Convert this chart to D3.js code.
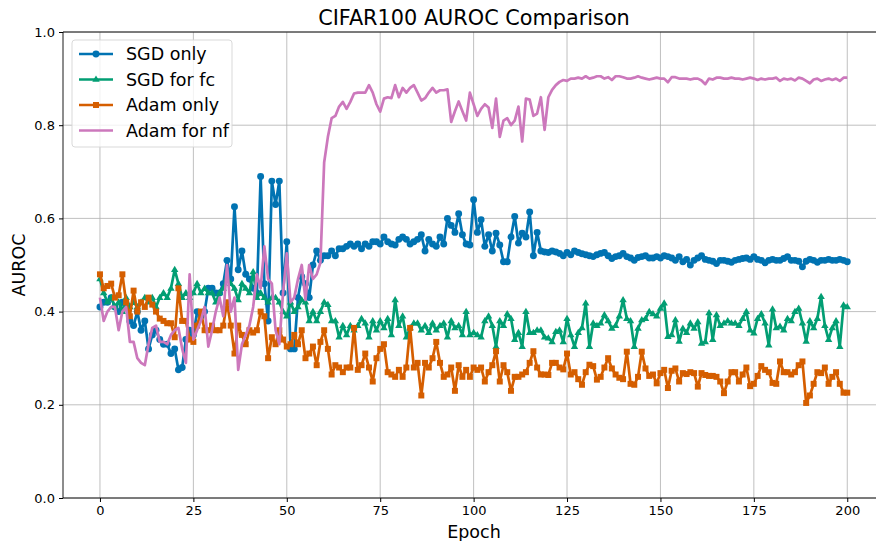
<!DOCTYPE html>
<html>
<head>
<meta charset="utf-8">
<script src="https://cdn.jsdelivr.net/npm/d3@7"></script>
<style>
  html, body { margin: 0; padding: 0; background: #fff; }
  svg { display: block; font-family: "DejaVu Sans", sans-serif; }
</style>
</head>
<body>
<svg id="chart" width="876" height="541"></svg>
<script>
// AUROC per epoch (0..200) for each optimiser setup
const sgdOnly = [
  0.41, 0.42, 0.42, 0.43, 0.41, 0.40, 0.42, 0.41, 0.38, 0.37,
  0.40, 0.36, 0.38, 0.32, 0.35, 0.36, 0.34, 0.33, 0.33, 0.31,
  0.32, 0.275, 0.28, 0.34, 0.36, 0.35, 0.40, 0.39, 0.40, 0.45,
  0.45, 0.44, 0.44, 0.46, 0.51, 0.47, 0.625, 0.49, 0.53, 0.48,
  0.47, 0.45, 0.44, 0.69, 0.46, 0.38, 0.68, 0.63, 0.68, 0.44,
  0.55, 0.32, 0.32, 0.43, 0.475, 0.46, 0.43, 0.50, 0.53, 0.51,
  0.52, 0.52, 0.53, 0.52, 0.535, 0.535, 0.54, 0.545, 0.54, 0.545,
  0.535, 0.545, 0.54, 0.55, 0.55, 0.545, 0.56, 0.55, 0.545, 0.543,
  0.555, 0.56, 0.555, 0.545, 0.55, 0.555, 0.565, 0.53, 0.555, 0.545,
  0.54, 0.56, 0.545, 0.60, 0.585, 0.57, 0.61, 0.565, 0.545, 0.543,
  0.64, 0.57, 0.597, 0.54, 0.565, 0.53, 0.568, 0.543, 0.507, 0.507,
  0.56, 0.604, 0.547, 0.568, 0.56, 0.614, 0.52, 0.57, 0.53, 0.528,
  0.527, 0.53, 0.528, 0.525, 0.52, 0.527, 0.522, 0.53, 0.527, 0.524,
  0.522, 0.52, 0.518, 0.522, 0.525, 0.527, 0.52, 0.514, 0.518, 0.52,
  0.525, 0.518, 0.515, 0.51, 0.516, 0.518, 0.52, 0.515, 0.515, 0.518,
  0.515, 0.52, 0.518, 0.515, 0.51, 0.518, 0.507, 0.512, 0.50, 0.51,
  0.515, 0.52, 0.512, 0.51, 0.508, 0.503, 0.51, 0.51, 0.508, 0.506,
  0.51, 0.512, 0.514, 0.515, 0.512, 0.518, 0.512, 0.51, 0.505, 0.51,
  0.512, 0.51, 0.51, 0.514, 0.518, 0.51, 0.51, 0.508, 0.496, 0.508,
  0.512, 0.51, 0.506, 0.51, 0.51, 0.512, 0.51, 0.51, 0.512, 0.51,
  0.507
];

const sgdForFc = [
  0.47, 0.44, 0.42, 0.43, 0.41, 0.42, 0.40, 0.43, 0.41, 0.42,
  0.41, 0.42, 0.43, 0.42, 0.43, 0.41, 0.43, 0.44, 0.43, 0.45,
  0.49, 0.46, 0.43, 0.44, 0.43, 0.44, 0.46, 0.44, 0.45, 0.44,
  0.44, 0.42, 0.44, 0.45, 0.47, 0.46, 0.45, 0.425, 0.46, 0.45,
  0.44, 0.485, 0.43, 0.44, 0.43, 0.42, 0.43, 0.43, 0.42, 0.40,
  0.39, 0.42, 0.40, 0.41, 0.425, 0.42, 0.38, 0.40, 0.38, 0.40,
  0.42, 0.415, 0.38, 0.38, 0.345, 0.37, 0.35, 0.37, 0.36, 0.37,
  0.385, 0.375, 0.345, 0.38, 0.36, 0.38, 0.365, 0.385, 0.35, 0.425,
  0.37, 0.39, 0.345, 0.365, 0.375, 0.375, 0.36, 0.37, 0.355, 0.375,
  0.36, 0.37, 0.375, 0.345, 0.38, 0.365, 0.37, 0.35, 0.40, 0.35,
  0.355, 0.35, 0.345, 0.38, 0.39, 0.37, 0.325, 0.38, 0.37, 0.395,
  0.385, 0.34, 0.355, 0.325, 0.40, 0.355, 0.355, 0.36, 0.36, 0.345,
  0.343, 0.335, 0.357, 0.36, 0.335, 0.385, 0.35, 0.325, 0.355, 0.365,
  0.418, 0.325, 0.375, 0.37, 0.375, 0.393, 0.38, 0.364, 0.37, 0.39,
  0.425, 0.385, 0.38, 0.325, 0.364, 0.382, 0.385, 0.40, 0.395, 0.39,
  0.407, 0.418, 0.346, 0.35, 0.382, 0.336, 0.364, 0.355, 0.375, 0.364,
  0.378, 0.332, 0.335, 0.397, 0.34, 0.393, 0.37, 0.375, 0.38, 0.375,
  0.375, 0.37, 0.385, 0.40, 0.36, 0.354, 0.385, 0.395, 0.375, 0.328,
  0.405, 0.365, 0.368, 0.36, 0.385, 0.38, 0.40, 0.407, 0.375, 0.336,
  0.38, 0.365, 0.385, 0.432, 0.37, 0.34, 0.365, 0.38, 0.325, 0.414,
  0.41
];

const adamOnly = [
  0.48, 0.45, 0.455, 0.46, 0.43, 0.435, 0.48, 0.42, 0.39, 0.445,
  0.40, 0.42, 0.41, 0.43, 0.415, 0.40, 0.385, 0.38, 0.375, 0.375,
  0.345, 0.45, 0.38, 0.38, 0.34, 0.335, 0.37, 0.40, 0.36, 0.36,
  0.37, 0.36, 0.36, 0.37, 0.42, 0.37, 0.31, 0.37, 0.35, 0.33,
  0.36, 0.355, 0.36, 0.40, 0.39, 0.30, 0.345, 0.33, 0.36, 0.34,
  0.325, 0.33, 0.35, 0.33, 0.36, 0.30, 0.31, 0.325, 0.285, 0.335,
  0.36, 0.32, 0.265, 0.285, 0.28, 0.27, 0.28, 0.28, 0.365, 0.275,
  0.285, 0.31, 0.28, 0.25, 0.30, 0.32, 0.33, 0.27, 0.265, 0.26,
  0.275, 0.26, 0.28, 0.365, 0.28, 0.29, 0.22, 0.29, 0.28, 0.30,
  0.335, 0.29, 0.26, 0.265, 0.28, 0.23, 0.285, 0.26, 0.275, 0.26,
  0.28, 0.275, 0.28, 0.25, 0.27, 0.285, 0.315, 0.25, 0.285, 0.27,
  0.23, 0.26, 0.26, 0.265, 0.27, 0.29, 0.315, 0.28, 0.265, 0.265,
  0.264, 0.29, 0.29, 0.28, 0.276, 0.31, 0.265, 0.27, 0.255, 0.243,
  0.27, 0.286, 0.283, 0.254, 0.26, 0.28, 0.30, 0.278, 0.265, 0.258,
  0.255, 0.314, 0.245, 0.243, 0.26, 0.314, 0.278, 0.262, 0.265, 0.246,
  0.268, 0.275, 0.236, 0.273, 0.278, 0.25, 0.268, 0.266, 0.27, 0.268,
  0.239, 0.268, 0.264, 0.262, 0.262, 0.26, 0.25, 0.225, 0.25, 0.27,
  0.27, 0.25, 0.265, 0.28, 0.24, 0.245, 0.262, 0.283, 0.275, 0.27,
  0.247, 0.245, 0.293, 0.27, 0.27, 0.265, 0.27, 0.285, 0.293, 0.204,
  0.22, 0.245, 0.27, 0.268, 0.28, 0.245, 0.26, 0.27, 0.245, 0.226,
  0.226
];

const adamForNf = [
  0.43, 0.38, 0.40, 0.41, 0.41, 0.36, 0.40, 0.41, 0.335, 0.335,
  0.30, 0.29, 0.285, 0.33, 0.365, 0.37, 0.335, 0.335, 0.33, 0.35,
  0.36, 0.365, 0.32, 0.29, 0.48, 0.34, 0.36, 0.38, 0.41, 0.325,
  0.36, 0.40, 0.43, 0.39, 0.50, 0.40, 0.43, 0.275, 0.33, 0.35,
  0.37, 0.41, 0.48, 0.45, 0.54, 0.47, 0.46, 0.36, 0.33, 0.44,
  0.525, 0.42, 0.43, 0.47, 0.50, 0.425, 0.50, 0.47, 0.48, 0.505,
  0.72, 0.775, 0.815, 0.82, 0.84, 0.85, 0.835, 0.85, 0.868, 0.87,
  0.87, 0.87, 0.886, 0.87, 0.845, 0.829, 0.857, 0.86, 0.858, 0.886,
  0.86, 0.88, 0.87, 0.88, 0.886, 0.87, 0.853, 0.858, 0.87, 0.88,
  0.87, 0.875, 0.875, 0.877, 0.807, 0.83, 0.851, 0.83, 0.81, 0.87,
  0.845, 0.82, 0.835, 0.845, 0.838, 0.794, 0.857, 0.775, 0.81, 0.815,
  0.80, 0.81, 0.84, 0.765, 0.857, 0.855, 0.82, 0.825, 0.86, 0.79,
  0.86, 0.876, 0.886, 0.893, 0.897, 0.895, 0.90, 0.90, 0.902, 0.90,
  0.905, 0.90, 0.902, 0.905, 0.905, 0.90, 0.903, 0.897, 0.905, 0.905,
  0.903, 0.90, 0.90, 0.902, 0.905, 0.902, 0.90, 0.898, 0.90, 0.902,
  0.90, 0.90, 0.892, 0.903, 0.903, 0.90, 0.90, 0.90, 0.898, 0.90,
  0.90, 0.896, 0.888, 0.90, 0.898, 0.902, 0.902, 0.90, 0.90, 0.902,
  0.90, 0.90, 0.898, 0.90, 0.902, 0.90, 0.897, 0.90, 0.898, 0.90,
  0.90, 0.902, 0.895, 0.90, 0.898, 0.90, 0.896, 0.902, 0.90, 0.895,
  0.89, 0.898, 0.90, 0.895, 0.898, 0.90, 0.897, 0.90, 0.895, 0.902,
  0.902
];

const seriesNames = ["SGD only", "SGD for fc", "Adam only", "Adam for nf"];
const seriesColors = ["#0173B2", "#029E73", "#D55E00", "#CC78BC"];
const seriesMarkers = ["circle", "triangle", "square", "none"];
const seriesValues = [sgdOnly, sgdForFc, adamOnly, adamForNf];

const xTicks = [0, 25, 50, 75, 100, 125, 150, 175, 200];
const yTicks = [0.0, 0.2, 0.4, 0.6, 0.8, 1.0];

const svg = d3.select("#chart");
const W = 876, H = 541;
const plot = { left: 63, top: 32, bottom: 498 };

// x axis spans -10..210 (5% padding); the right end runs past the canvas edge
const x = d3.scaleLinear().domain([-10, 210]).range([62.6, 62.6 + 220 * 3.7365]);
const y = d3.scaleLinear().domain([0, 1]).range([plot.bottom, plot.top]);

const clipW = W - plot.left;
svg.append("defs").append("clipPath").attr("id", "plotClip")
  .append("rect").attr("x", plot.left).attr("y", plot.top)
  .attr("width", clipW).attr("height", plot.bottom - plot.top);

// grid
const grid = svg.append("g");
grid.selectAll("line.gx").data(xTicks).join("line")
  .attr("x1", d => x(d)).attr("x2", d => x(d))
  .attr("y1", plot.top).attr("y2", plot.bottom)
  .attr("stroke", "#b0b0b0").attr("stroke-width", 0.8);
grid.selectAll("line.gy").data(yTicks).join("line")
  .attr("x1", plot.left).attr("x2", W)
  .attr("y1", d => y(d)).attr("y2", d => y(d))
  .attr("stroke", "#b0b0b0").attr("stroke-width", 0.8);

// series
const line = d3.line().x((d, i) => x(i)).y(d => y(d));
const marks = svg.append("g").attr("clip-path", "url(#plotClip)");

function drawMarker(g, type, color, cx, cy, s) {
  if (type === "circle") {
    g.append("circle").attr("cx", cx).attr("cy", cy).attr("r", s * 0.55).attr("fill", color);
  } else if (type === "square") {
    const a = s * 0.95;
    g.append("rect").attr("x", cx - a / 2).attr("y", cy - a / 2)
      .attr("width", a).attr("height", a).attr("fill", color);
  } else if (type === "triangle") {
    const r = s * 0.62;
    g.append("path")
      .attr("d", `M${cx},${cy - r}L${cx + r * 0.95},${cy + r * 0.6}L${cx - r * 0.95},${cy + r * 0.6}Z`)
      .attr("fill", color);
  }
}

seriesValues.forEach((vals, k) => {
  const g = marks.append("g");
  g.append("path").datum(vals)
    .attr("d", line)
    .attr("fill", "none")
    .attr("stroke", seriesColors[k])
    .attr("stroke-width", 2.7)
    .attr("stroke-linejoin", "round");
  if (seriesMarkers[k] !== "none") {
    vals.forEach((v, i) => drawMarker(g, seriesMarkers[k], seriesColors[k], x(i), y(v), 6.3));
  }
});

// frame (left, top, bottom)
svg.append("line").attr("x1", plot.left).attr("x2", plot.left)
  .attr("y1", plot.top).attr("y2", plot.bottom).attr("stroke", "#000").attr("stroke-width", 0.9);
svg.append("line").attr("x1", plot.left).attr("x2", W)
  .attr("y1", plot.top).attr("y2", plot.top).attr("stroke", "#000").attr("stroke-width", 0.9);
svg.append("line").attr("x1", plot.left).attr("x2", W)
  .attr("y1", plot.bottom).attr("y2", plot.bottom).attr("stroke", "#000").attr("stroke-width", 0.9);

// axes
const xAxis = d3.axisBottom(x).tickValues(xTicks).tickFormat(d3.format("d"))
  .tickSizeOuter(0).tickSizeInner(4).tickPadding(4);
const gx = svg.append("g").attr("transform", `translate(0,${plot.bottom})`).call(xAxis);
gx.select(".domain").remove();
gx.selectAll("text").attr("font-size", 13).attr("fill", "#000").attr("font-family", "DejaVu Sans");

const yAxis = d3.axisLeft(y).tickValues(yTicks).tickFormat(d3.format(".1f"))
  .tickSizeOuter(0).tickSizeInner(4).tickPadding(4);
const gy = svg.append("g").attr("transform", `translate(${plot.left},0)`).call(yAxis);
gy.select(".domain").remove();
gy.selectAll("text").attr("font-size", 13).attr("fill", "#000").attr("font-family", "DejaVu Sans");

// titles
svg.append("text").attr("x", 474).attr("y", 25).attr("text-anchor", "middle")
  .attr("font-size", 20.8).text("CIFAR100 AUROC Comparison");
svg.append("text").attr("x", 474).attr("y", 538).attr("text-anchor", "middle")
  .attr("font-size", 17.5).text("Epoch");
svg.append("text").attr("transform", `translate(25,${(plot.top + plot.bottom) / 2}) rotate(-90)`)
  .attr("text-anchor", "middle").attr("font-size", 17.5).text("AUROC");

// legend
const lg = svg.append("g").attr("transform", "translate(72,40)");
lg.append("rect").attr("width", 160).attr("height", 107).attr("rx", 3)
  .attr("fill", "#fff").attr("fill-opacity", 0.8)
  .attr("stroke", "#d5d5d5").attr("stroke-width", 0.9);
seriesNames.forEach((name, k) => {
  const yy = 14 + k * 25.5;
  const row = lg.append("g");
  row.append("line").attr("x1", 7).attr("x2", 41).attr("y1", yy).attr("y2", yy)
    .attr("stroke", seriesColors[k]).attr("stroke-width", 2.7);
  if (seriesMarkers[k] !== "none") drawMarker(row, seriesMarkers[k], seriesColors[k], 24, yy, 6.3);
  row.append("text").attr("x", 54).attr("y", yy + 6).attr("font-size", 17.5).text(name);
});
</script>
</body>
</html>
